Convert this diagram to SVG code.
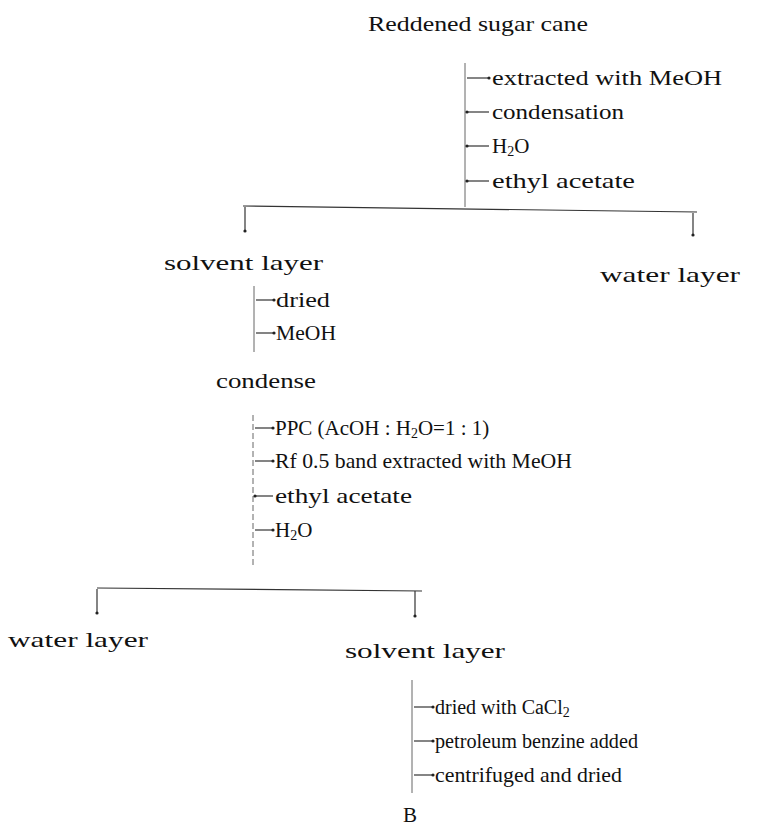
<svg xmlns="http://www.w3.org/2000/svg" width="766" height="829" viewBox="0 0 766 829">
<style>
text{font-family:"Liberation Serif","Times New Roman",serif;font-size:21px;fill:#111}
.c line,.c path{stroke:#333;stroke-width:1.2;fill:none}
.v{stroke:#666 !important;stroke-width:1 !important}
.sub{font-size:14px}
.s20{font-size:20px}
</style>
<defs>
<marker id="dot" viewBox="0 0 4 4" refX="2" refY="2" markerWidth="4" markerHeight="4" markerUnits="userSpaceOnUse"><circle cx="2" cy="2" r="1.6" fill="#222"/></marker>
</defs>
<g class="c" id="connectors">
<line class="v" x1="465" y1="63" x2="465" y2="207"/>
<line x1="467" y1="78" x2="489" y2="78" marker-end="url(#dot)"/>
<line x1="489" y1="112" x2="467" y2="112" marker-end="url(#dot)"/>
<line x1="489" y1="146" x2="467" y2="146" marker-end="url(#dot)"/>
<line x1="489" y1="181" x2="467" y2="181" marker-end="url(#dot)"/>
<path d="M243 206 L697 212"/>
<line x1="245" y1="207" x2="245" y2="231" marker-end="url(#dot)"/>
<line x1="693" y1="213" x2="693" y2="235" marker-end="url(#dot)"/>
<line class="v" x1="254" y1="286" x2="254" y2="352"/>
<line x1="256" y1="300" x2="274" y2="300" marker-end="url(#dot)"/>
<line x1="256" y1="333" x2="274" y2="333" marker-end="url(#dot)"/>
<line class="v" x1="253" y1="415" x2="253" y2="565" stroke-dasharray="6 3"/>
<line x1="255" y1="428" x2="273" y2="428" marker-end="url(#dot)"/>
<line x1="255" y1="461" x2="273" y2="461" marker-end="url(#dot)"/>
<line x1="273" y1="496" x2="255" y2="496" marker-end="url(#dot)"/>
<line x1="255" y1="530" x2="273" y2="530" marker-end="url(#dot)"/>
<path d="M97 588 L422 591"/>
<line x1="97" y1="589" x2="97" y2="613" marker-end="url(#dot)"/>
<line x1="415" y1="591" x2="415" y2="616" marker-end="url(#dot)"/>
<line class="v" x1="412" y1="680" x2="412" y2="793"/>
<line x1="414" y1="707" x2="433" y2="707" marker-end="url(#dot)"/>
<line x1="414" y1="741" x2="433" y2="741" marker-end="url(#dot)"/>
<line x1="414" y1="775" x2="433" y2="775" marker-end="url(#dot)"/>
</g>
<g id="n_cane"><text x="368" y="31" textLength="220" lengthAdjust="spacingAndGlyphs">Reddened sugar cane</text></g>
<g id="s1">
<text x="492" y="85" textLength="230" lengthAdjust="spacingAndGlyphs">extracted with MeOH</text>
<text x="492" y="119" textLength="132" lengthAdjust="spacingAndGlyphs">condensation</text>
<text x="492" y="153">H<tspan class="sub" dy="3">2</tspan><tspan dy="-3">O</tspan></text>
<text x="492" y="188" textLength="143" lengthAdjust="spacingAndGlyphs">ethyl acetate</text>
</g>
<g id="n_solvent1"><text x="164" y="270" textLength="159" lengthAdjust="spacingAndGlyphs">solvent layer</text></g>
<g id="n_water1"><text x="600" y="282" textLength="140" lengthAdjust="spacingAndGlyphs">water layer</text></g>
<g id="s2">
<text x="276" y="307" textLength="54" lengthAdjust="spacingAndGlyphs">dried</text>
<text x="276" y="340" textLength="60" lengthAdjust="spacingAndGlyphs">MeOH</text>
</g>
<g id="n_condense"><text x="216" y="388" textLength="100" lengthAdjust="spacingAndGlyphs">condense</text></g>
<g id="s3">
<text x="275" y="435">PPC (AcOH : H<tspan class="sub" dy="3">2</tspan><tspan dy="-3">O=1 : 1)</tspan></text>
<text x="275" y="468" textLength="297" lengthAdjust="spacingAndGlyphs">Rf 0.5 band extracted with MeOH</text>
<text x="275" y="503" textLength="137" lengthAdjust="spacingAndGlyphs">ethyl acetate</text>
<text x="275" y="537">H<tspan class="sub" dy="3">2</tspan><tspan dy="-3">O</tspan></text>
</g>
<g id="n_water2"><text x="8" y="647" textLength="140" lengthAdjust="spacingAndGlyphs">water layer</text></g>
<g id="n_solvent2"><text x="345" y="658" textLength="160" lengthAdjust="spacingAndGlyphs">solvent layer</text></g>
<g id="s4">
<text class="s20" x="435" y="714">dried with CaCl<tspan class="sub" dy="3">2</tspan></text>
<text x="435" y="748" textLength="203" lengthAdjust="spacingAndGlyphs">petroleum benzine added</text>
<text x="435" y="782" textLength="187" lengthAdjust="spacingAndGlyphs">centrifuged and dried</text>
</g>
<g id="n_B"><text x="403" y="822">B</text></g>
</svg>
